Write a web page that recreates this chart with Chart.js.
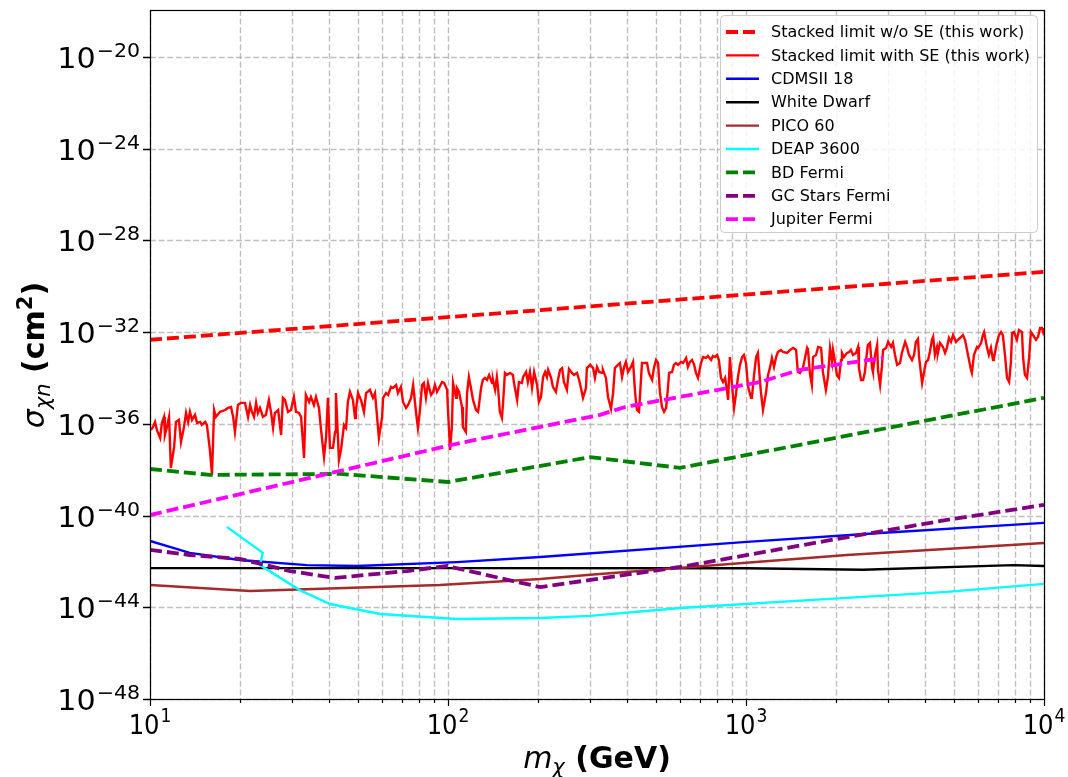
<!DOCTYPE html>
<html>
<head>
<meta charset="utf-8">
<script src="https://cdn.jsdelivr.net/npm/chart.js@4.4.1/dist/chart.umd.min.js"></script>
<style>
  html, body { margin: 0; padding: 0; background: #fff; }
</style>
</head>
<body>
<canvas id="chart" width="1068" height="777"></canvas>
<script>
// axis ranges and tick exponents
const massRange = [10, 10000];
const sigmaRange = [1e-48, 1.1e-18];
const xTickExp = [1, 2, 3, 4];
const yTickExp = [-48, -44, -40, -36, -32, -28, -24, -20];

// Stacked limit w/o SE (this work)
const woSE_mass = [10, 10000];
const woSE_sigma = [4.6e-33, 4.2e-30];

// Stacked limit with SE (this work): [log10 m (GeV), log10 sigma (cm^2)]
const withSE_log = [
  [1.003,-36.27],[1.010,-36.14],[1.017,-35.92],[1.023,-36.27],[1.034,-36.62],[1.040,-35.96],[1.047,-35.70],[1.050,-36.49],
  [1.057,-36.14],[1.064,-35.70],[1.070,-37.93],[1.081,-37.01],[1.087,-35.92],[1.097,-35.83],[1.104,-36.79],[1.114,-36.14],
  [1.121,-35.53],[1.128,-35.92],[1.134,-35.48],[1.141,-35.83],[1.151,-35.61],[1.158,-35.96],[1.168,-35.92],[1.174,-36.05],
  [1.185,-35.92],[1.191,-36.05],[1.201,-37.14],[1.208,-38.23],[1.215,-35.40],[1.221,-35.70],[1.235,-35.48],[1.252,-35.40],
  [1.262,-35.31],[1.272,-35.27],[1.279,-35.70],[1.285,-36.36],[1.295,-35.18],[1.305,-35.09],[1.319,-35.09],[1.329,-35.70],
  [1.336,-35.18],[1.342,-35.48],[1.349,-35.70],[1.356,-35.09],[1.362,-35.53],[1.369,-35.31],[1.379,-35.70],[1.389,-35.61],
  [1.399,-34.96],[1.406,-35.48],[1.413,-36.18],[1.419,-35.53],[1.430,-35.40],[1.440,-36.49],[1.446,-34.87],[1.453,-34.96],
  [1.463,-35.48],[1.473,-35.40],[1.483,-34.83],[1.490,-35.48],[1.500,-35.53],[1.507,-35.70],[1.517,-37.49],[1.523,-34.74],
  [1.534,-35.05],[1.540,-34.83],[1.550,-35.18],[1.557,-34.83],[1.567,-35.31],[1.574,-36.27],[1.584,-37.45],[1.591,-36.57],
  [1.597,-34.87],[1.604,-37.05],[1.614,-37.05],[1.621,-36.36],[1.624,-34.66],[1.634,-37.58],[1.641,-37.14],[1.651,-36.05],
  [1.658,-36.18],[1.664,-35.05],[1.671,-34.61],[1.681,-34.96],[1.688,-35.75],[1.691,-35.40],[1.698,-34.66],[1.708,-34.96],
  [1.718,-35.48],[1.725,-34.66],[1.738,-34.52],
  [1.748,-34.87],[1.755,-34.66],[1.762,-35.70],[1.768,-36.62],[1.779,-35.70],[1.782,-34.87],[1.792,-34.66],[1.799,-34.74],
  [1.809,-34.39],[1.815,-34.44],[1.826,-34.31],[1.832,-34.66],[1.842,-34.39],[1.849,-35.05],[1.859,-35.31],[1.866,-35.18],
  [1.876,-34.87],[1.883,-34.31],[1.893,-35.53],[1.899,-36.18],[1.906,-35.40],[1.913,-34.31],[1.919,-34.22],[1.926,-34.87],
  [1.933,-34.22],[1.943,-34.74],[1.950,-34.61],[1.956,-34.31],[1.963,-34.61],[1.970,-34.44],[1.980,-34.18],[1.987,-34.22],
  [1.997,-34.52],[2.000,-35.40],[2.007,-37.14],[2.013,-36.14],[2.017,-34.22],[2.027,-34.87],[2.030,-34.44],[2.037,-34.61],
  [2.047,-35.27],[2.050,-36.14],[2.060,-36.36],[2.064,-34.66],[2.070,-33.96],[2.077,-34.44],[2.084,-34.96],[2.094,-35.40],
  [2.101,-35.48],[2.111,-34.44],[2.117,-34.09],[2.124,-34.00],[2.131,-34.09],[2.138,-33.87],[2.148,-34.22],[2.151,-34.09],
  [2.158,-34.52],[2.164,-33.96],[2.168,-34.44],[2.174,-35.48],[2.181,-35.75],[2.185,-35.05],[2.191,-33.78],[2.198,-33.87],
  [2.208,-33.78],[2.218,-33.87],[2.221,-34.18],[2.232,-34.96],[2.238,-34.18],[2.248,-34.22],[2.252,-33.96],[2.262,-33.74],
  [2.268,-34.18],[2.275,-33.74],[2.282,-34.44],[2.289,-33.74],[2.299,-34.31],[2.305,-35.05],[2.312,-34.83],[2.319,-33.96],
  [2.326,-33.74],[2.332,-33.96],[2.336,-33.65],[2.346,-34.00],[2.352,-34.39],[2.362,-34.61],[2.369,-34.09],[2.376,-33.65],
  [2.383,-33.57],[2.389,-34.18],[2.399,-34.52],[2.406,-33.61],[2.416,-33.78],[2.423,-33.87],[2.433,-33.78],[2.440,-34.09],
  [2.446,-34.44],[2.453,-34.87],[2.463,-34.44],[2.466,-33.57],[2.477,-33.43],
  [2.487,-33.57],[2.493,-34.00],[2.500,-33.52],[2.507,-33.74],[2.517,-33.78],[2.520,-33.65],[2.530,-34.00],[2.537,-34.83],
  [2.547,-35.35],[2.554,-34.66],[2.560,-33.57],[2.570,-33.43],[2.577,-33.35],[2.584,-33.96],[2.591,-33.52],[2.597,-33.30],
  [2.604,-33.74],[2.614,-33.52],[2.621,-33.30],[2.628,-34.66],[2.634,-35.40],[2.641,-35.48],[2.651,-33.35],[2.658,-33.35],
  [2.668,-33.35],[2.674,-33.78],[2.685,-34.09],[2.691,-33.57],[2.698,-33.22],[2.705,-33.35],[2.711,-34.61],[2.718,-35.27],
  [2.725,-35.48],[2.732,-35.31],[2.738,-34.44],[2.742,-33.78],[2.752,-33.74],[2.758,-33.43],[2.765,-33.35],[2.772,-33.43],
  [2.782,-33.30],[2.789,-33.35],[2.799,-33.13],[2.805,-33.52],[2.812,-33.30],[2.819,-33.22],[2.826,-33.43],[2.832,-33.78],
  [2.839,-34.00],[2.849,-33.35],[2.856,-33.09],[2.866,-33.13],[2.872,-33.04],[2.883,-33.22],[2.889,-33.04],[2.896,-33.09],
  [2.903,-33.00],[2.909,-33.22],[2.916,-34.00],[2.923,-34.18],[2.930,-34.00],[2.936,-34.52],[2.940,-34.96],[2.946,-33.09],
  [2.953,-34.31],[2.960,-35.31],[2.966,-34.74],[2.973,-33.96],[2.980,-33.43],[2.987,-33.09],[2.993,-33.00],[3.000,-33.35],
  [3.007,-34.39],[3.017,-34.87],[3.020,-34.83],[3.027,-33.87],[3.034,-33.09],[3.040,-32.91],[3.044,-33.65],[3.050,-34.61],
  [3.057,-35.40],[3.067,-34.66],[3.074,-33.87],[3.081,-33.52],[3.087,-33.13],[3.094,-33.52],[3.101,-33.09],[3.107,-32.87],
  [3.117,-32.78],[3.124,-32.87],[3.138,-32.91],[3.148,-32.78],[3.158,-32.69],[3.168,-32.78],[3.174,-33.74],[3.181,-33.78],
  [3.191,-33.57],[3.198,-33.13],[3.205,-32.69],[3.208,-32.78],[3.215,-33.87],[3.221,-34.31],
  [3.225,-33.09],[3.235,-33.00],[3.242,-32.65],[3.252,-32.69],[3.258,-33.74],[3.268,-34.52],[3.275,-33.96],[3.282,-32.69],
  [3.289,-33.30],[3.292,-32.78],[3.299,-33.30],[3.305,-33.87],[3.312,-34.00],[3.319,-33.22],[3.322,-32.91],[3.329,-33.09],
  [3.339,-32.91],[3.346,-32.87],[3.352,-32.78],[3.359,-33.00],[3.369,-32.91],[3.376,-32.65],[3.379,-33.57],[3.386,-34.09],
  [3.393,-34.09],[3.399,-33.74],[3.406,-32.87],[3.409,-32.56],[3.416,-32.47],[3.423,-33.57],[3.426,-33.74],[3.433,-33.00],
  [3.440,-32.56],[3.443,-33.65],[3.450,-34.31],[3.456,-33.52],[3.460,-32.78],[3.470,-32.69],[3.477,-32.43],[3.487,-32.65],
  [3.493,-32.47],[3.500,-33.00],[3.507,-33.43],[3.517,-33.35],[3.523,-32.91],[3.534,-32.43],[3.540,-32.65],[3.547,-33.00],
  [3.557,-33.22],[3.564,-33.00],[3.570,-32.43],[3.577,-32.30],[3.581,-33.13],[3.591,-34.22],[3.597,-33.78],[3.604,-33.30],
  [3.611,-33.22],[3.617,-32.87],[3.624,-32.34],[3.628,-32.21],[3.634,-33.00],[3.641,-32.65],[3.644,-32.91],[3.651,-32.47],
  [3.661,-32.65],[3.668,-32.91],[3.674,-32.69],[3.681,-32.26],[3.688,-32.43],[3.695,-32.13],[3.705,-32.43],[3.711,-32.34],
  [3.718,-32.26],[3.728,-32.13],[3.735,-32.34],[3.745,-33.00],[3.755,-33.65],[3.758,-33.78],[3.765,-33.00],[3.775,-32.65],
  [3.779,-32.69],[3.789,-32.47],[3.795,-32.13],[3.799,-32.00],[3.809,-32.69],[3.815,-33.00],[3.822,-32.69],[3.829,-33.22],
  [3.832,-33.13],[3.842,-32.47],[3.849,-32.13],[3.856,-32.00],[3.862,-32.13],[3.869,-33.00],[3.876,-34.00],[3.883,-34.18],
  [3.889,-33.30],[3.893,-32.04],[3.899,-32.00],[3.909,-32.34],[3.916,-31.91],[3.926,-32.00],[3.930,-33.13],[3.936,-33.87],
  [3.943,-34.00],[3.950,-33.13],[3.956,-32.00],[3.963,-32.13],[3.973,-32.34],[3.980,-32.21],[3.987,-31.82],[3.993,-31.82],
  [3.997,-32.00],[4.000,-31.82]
];

// CDMSII 18
const cdms_mass = [10, 13.6, 20, 33.6, 49.5, 107, 204, 1007, 2818, 10000];
const cdms_sigma = [7.8e-42, 2.35e-42, 1.15e-42, 6.9e-43, 6.3e-43, 9.3e-43, 1.55e-42, 7.1e-42, 1.74e-41, 4.8e-41];

// White Dwarf
const wd_mass = [10, 100, 1000, 2470, 7870, 10000];
const wd_sigma = [5.1e-43, 5.1e-43, 5.0e-43, 4.3e-43, 6.9e-43, 6.3e-43];

// PICO 60
const pico_mass = [10, 21.7, 94, 204, 300, 2183, 10000];
const pico_sigma = [9.3e-44, 5.1e-44, 9.3e-44, 1.7e-43, 2.6e-43, 1.9e-42, 6.3e-42];

// DEAP 3600
const deap_mass = [18.1, 23.9, 23.4, 31.8, 40.2, 59.2, 107, 204, 300, 601, 1679, 4720, 10000];
const deap_sigma = [3.2e-41, 2.35e-42, 6.9e-43, 5.6e-44, 1.38e-44, 5.1e-45, 3.1e-45, 3.4e-45, 4.2e-45, 9.3e-45, 2.1e-44, 4.7e-44, 1.05e-43];

// BD Fermi
const bd_mass = [10, 15.9, 43.4, 100, 300, 600, 10000];
const bd_sigma = [1.07e-38, 5.9e-39, 6.5e-39, 2.9e-39, 3.5e-38, 1.2e-38, 1.35e-35];

// GC Stars Fermi
const gc_mass = [10, 13.6, 20, 29.5, 41.8, 72.8, 99.3, 171, 204, 300, 601, 2018, 4720, 10000];
const gc_sigma = [3.2e-42, 1.9e-42, 1.29e-42, 3.8e-43, 1.9e-43, 3.8e-43, 6.3e-43, 1.26e-43, 7.6e-44, 1.55e-43, 5.7e-43, 9.5e-42, 6.4e-41, 2.9e-40];

// Jupiter Fermi
const jup_mass = [10, 109.6, 324, 393, 1114, 1517, 2884];
const jup_sigma = [1.05e-40, 1.45e-37, 2.45e-36, 5.4e-36, 6.6e-35, 2.24e-34, 7.4e-34];

// positions of the x grid (1..9 x 10^n) and the y ticks
const xGridVals = [];
for (let e = xTickExp[0]; e < xTickExp[xTickExp.length - 1]; e++) {
  for (let k = 1; k < 10; k++) xGridVals.push(k * Math.pow(10, e));
}
xGridVals.push(Math.pow(10, xTickExp[xTickExp.length - 1]));
const yTickVals = yTickExp.map(e => Math.pow(10, e));

function pairs(xs, ys) {
  return xs.map((v, i) => ({ x: v, y: ys[i] }));
}

const FONT = '"DejaVu Sans", sans-serif';

// line helper for the datasets
function serie(label, data, color, width, dashed, order) {
  return {
    label: label,
    data: data,
    borderColor: color,
    backgroundColor: color,
    borderWidth: width,
    borderDash: dashed ? [12, 5] : [],
    pointRadius: 0,
    fill: false,
    tension: 0,
    order: order
  };
}

const datasets = [
  serie("Stacked limit w/o SE (this work)", pairs(woSE_mass, woSE_sigma), "#ff0000", 3.8, true, 9),
  serie("Stacked limit with SE (this work)", withSE_log.map(p => ({ x: Math.pow(10, p[0]), y: Math.pow(10, p[1]) })), "#ff0000", 2.4, false, 8),
  serie("CDMSII 18", pairs(cdms_mass, cdms_sigma), "#0000ff", 2.4, false, 7),
  serie("White Dwarf", pairs(wd_mass, wd_sigma), "#000000", 2.4, false, 6),
  serie("PICO 60", pairs(pico_mass, pico_sigma), "#a52a2a", 2.4, false, 5),
  serie("DEAP 3600", pairs(deap_mass, deap_sigma), "#00ffff", 2.4, false, 4),
  serie("BD Fermi", pairs(bd_mass, bd_sigma), "#008000", 3.8, true, 3),
  serie("GC Stars Fermi", pairs(gc_mass, gc_sigma), "#800080", 3.8, true, 2),
  serie("Jupiter Fermi", pairs(jup_mass, jup_sigma), "#ff00ff", 3.8, true, 1)
];

// draws "10" with a superscript exponent
function drawPow(ctx, x, base, exp, size, supSize, align, sx, rise) {
  ctx.save();
  ctx.font = size + "px " + FONT;
  const wb = ctx.measureText("10").width;
  ctx.font = supSize + "px " + FONT;
  const ws = ctx.measureText(exp).width;
  const total = (wb + ws + 1) * sx;
  const left = align === "right" ? x - total : x - total / 2;
  ctx.translate(left, 0);
  ctx.scale(sx, 1);
  ctx.fillStyle = "#000";
  ctx.textAlign = "left";
  ctx.textBaseline = "alphabetic";
  ctx.font = size + "px " + FONT;
  ctx.fillText("10", 0, base);
  ctx.font = supSize + "px " + FONT;
  ctx.fillText(exp, wb + 1, base - rise);
  ctx.restore();
}

// draws a list of [text, font, dy] pieces centered on (cx, base)
function drawPieces(ctx, cx, base, pieces) {
  let total = 0;
  for (const p of pieces) {
    ctx.font = p[1];
    total += ctx.measureText(p[0]).width;
  }
  let x = cx - total / 2;
  ctx.textAlign = "left";
  ctx.textBaseline = "alphabetic";
  ctx.fillStyle = "#000";
  for (const p of pieces) {
    ctx.font = p[1];
    ctx.fillText(p[0], x, base + p[2]);
    x += ctx.measureText(p[0]).width;
  }
}

const decor = {
  id: "decor",
  beforeDatasetsDraw(chart) {
    const { ctx, chartArea: a, scales } = chart;
    ctx.save();
    ctx.strokeStyle = "rgba(165,165,165,0.7)";
    ctx.lineWidth = 1.4;
    ctx.setLineDash([6, 2.6]);
    for (const v of xGridVals) {
      const px = Math.round(scales.x.getPixelForValue(v)) + 0.5;
      ctx.beginPath();
      ctx.moveTo(px, a.top);
      ctx.lineTo(px, a.bottom);
      ctx.stroke();
    }
    for (const v of yTickVals) {
      const py = Math.round(scales.y.getPixelForValue(v)) + 0.5;
      ctx.beginPath();
      ctx.moveTo(a.left, py);
      ctx.lineTo(a.right, py);
      ctx.stroke();
    }
    ctx.restore();
  },
  afterDraw(chart) {
    const { ctx, chartArea: a, scales } = chart;
    ctx.save();

    // frame
    ctx.strokeStyle = "#000";
    ctx.lineWidth = 1.2;
    ctx.strokeRect(a.left + 0.5, a.top + 0.5, a.right - a.left, a.bottom - a.top);

    // x ticks
    ctx.lineWidth = 1.2;
    for (const v of xGridVals) {
      const px = Math.round(scales.x.getPixelForValue(v)) + 0.5;
      const major = Math.abs(Math.log10(v) - Math.round(Math.log10(v))) < 1e-9;
      ctx.beginPath();
      ctx.moveTo(px, a.bottom);
      ctx.lineTo(px, a.bottom + (major ? 7 : 4));
      ctx.stroke();
    }
    for (const e of xTickExp) {
      const px = scales.x.getPixelForValue(Math.pow(10, e));
      drawPow(ctx, px, 734, String(e), 27, 19, "center", 0.9, 12);
    }

    // y ticks
    ctx.lineWidth = 1.5;
    for (const e of yTickExp) {
      const py = Math.round(scales.y.getPixelForValue(Math.pow(10, e))) + 0.5;
      ctx.beginPath();
      ctx.moveTo(a.left - 7, py);
      ctx.lineTo(a.left, py);
      ctx.stroke();
      drawPow(ctx, a.left - 10, py + 10, "\u2212" + Math.abs(e), 28, 19, "right", 1.08, 11);
    }

    // axis titles
    drawPieces(ctx, 597, 768, [
      ["m", "italic 30px " + FONT, 0],
      ["\u03c7", "italic 21px " + FONT, 6],
      [" (GeV)", "bold 30px " + FONT, 0]
    ]);
    ctx.save();
    ctx.translate(44, 355);
    ctx.rotate(-Math.PI / 2);
    drawPieces(ctx, 0, 0, [
      ["\u03c3", "italic 30px " + FONT, 0],
      ["\u03c7n", "italic 21px " + FONT, 6],
      [" (cm", "bold 30px " + FONT, 0],
      ["2", "bold 21px " + FONT, -12],
      [")", "bold 30px " + FONT, 0]
    ]);
    ctx.restore();

    // legend
    const lx = 720, ly = 15, lw = 317, lh = 217;
    ctx.beginPath();
    ctx.roundRect(lx + 0.5, ly + 0.5, lw, lh, 4);
    ctx.fillStyle = "rgba(255,255,255,0.85)";
    ctx.fill();
    ctx.strokeStyle = "#cccccc";
    ctx.lineWidth = 1;
    ctx.stroke();
    ctx.font = "16px " + FONT;
    ctx.textBaseline = "middle";
    ctx.textAlign = "left";
    datasets.forEach((ds, i) => {
      const yy = 32 + i * 23.4;
      ctx.strokeStyle = ds.borderColor;
      ctx.lineWidth = ds.borderWidth;
      ctx.setLineDash(ds.borderDash);
      ctx.beginPath();
      ctx.moveTo(726, yy);
      ctx.lineTo(759, yy);
      ctx.stroke();
      ctx.setLineDash([]);
      ctx.fillStyle = "#000";
      ctx.fillText(ds.label, 771, yy + 1);
    });

    ctx.restore();
  }
};

new Chart(document.getElementById("chart"), {
  type: "line",
  data: { datasets: datasets },
  options: {
    responsive: false,
    devicePixelRatio: 1,
    animation: false,
    layout: { padding: { top: 10, right: 24, left: 0, bottom: 0 } },
    plugins: { legend: { display: false }, tooltip: { enabled: false } },
    scales: {
      x: {
        type: "logarithmic",
        min: massRange[0],
        max: massRange[1],
        grid: { display: false },
        border: { display: false },
        ticks: { display: false },
        afterBuildTicks(s) { s.ticks = xGridVals.map(v => ({ value: v })); },
        afterFit(s) { s.height = 78; }
      },
      y: {
        type: "logarithmic",
        min: sigmaRange[0],
        max: sigmaRange[1],
        grid: { display: false },
        border: { display: false },
        ticks: { display: false },
        afterBuildTicks(s) { s.ticks = yTickVals.map(v => ({ value: v })); },
        afterFit(s) { s.width = 150; }
      }
    }
  },
  plugins: [decor]
});
</script>
</body>
</html>
